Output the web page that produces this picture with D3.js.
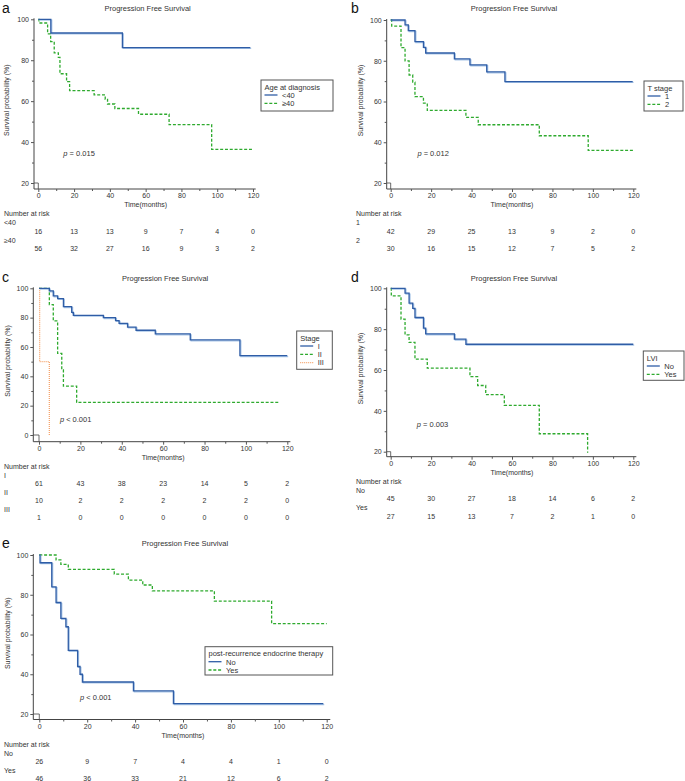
<!DOCTYPE html>
<html><head><meta charset="utf-8">
<script src="https://cdn.jsdelivr.net/npm/d3@7/dist/d3.min.js"></script>
<style>body{margin:0;background:#fff}svg{display:block}</style>
</head><body>
<svg id="chart" width="685" height="781"></svg>
<script>
// ---------- DATA ----------
const riskTimes = [0, 20, 40, 60, 80, 100, 120];
const xTickLabels = [0, 20, 40, 60, 80, 100, 120];

// Panel a: Age at diagnosis
const aGroups = ["<40", "\u226540"];
const aYoung = [[0,100],[7,93.3],[47,86.2],[118.5,86.2]];
const aOld = [[0,100],[0.4,98.2],[5.2,92.9],[6.9,89.1],[8.9,83.6],[11.2,81.4],[12.1,73.4],[15.8,69.5],[17.5,65.1],[31.2,63.1],[37.4,60.9],[38.7,58.6],[42.8,56.4],[56,53.6],[73.1,48.5],[96.9,36.4],[120,36.4]];
const aRiskYoung = [16,13,13,9,7,4,0];
const aRiskOld = [56,32,27,16,9,3,2];

// Panel b: T stage
const bGroups = ["1", "2"];
const bT1 = [[0,100],[7.1,97.6],[8.7,94.8],[12,89.4],[16.2,86.6],[17.3,83.8],[31.5,80.9],[39.2,78],[47.5,74.5],[56.5,69.8],[119.7,69.8]];
const bT2 = [[0,100],[0.5,97],[5.1,86.4],[7.1,79.9],[9.1,73],[10.9,69.5],[12,62.4],[16.2,59.2],[18.1,55.6],[37.2,52.2],[43.3,48.6],[73.5,43.2],[97.7,36],[120.5,36]];
const bRiskT1 = [42,29,25,13,9,2,0];
const bRiskT2 = [30,16,15,12,7,5,2];

// Panel c: Stage
const cGroups = ["I", "II", "III"];
const cStage1 = [[0,100],[5,98.2],[6.9,94.8],[9,93],[11.8,87.5],[15.8,83.6],[16.6,81.6],[31.1,80],[37,78],[38.7,76.1],[42.8,73.6],[46.9,71.4],[56.2,68.9],[73.1,64.8],[97.1,54.1],[120,54.1]];
const cStage2 = [[0,100],[5,88.9],[6.9,77.8],[9,55.6],[11,44.4],[11.8,33.3],[18.2,22.2],[116,22.2]];
const cStage3 = [[0,100],[0.3,50],[5,0]];
const cRisk1 = [61,43,38,23,14,5,2];
const cRisk2 = [10,2,2,2,2,2,0];
const cRisk3 = [1,0,0,0,0,0,0];

// Panel d: LVI
const dGroups = ["No", "Yes"];
const dNo = [[0,100],[7.1,97.6],[9.1,92.7],[10.9,90.2],[12,85.7],[16.2,80.5],[17.3,77.7],[31.5,75.1],[37.2,72.6],[120,72.6]];
const dYes = [[0,100],[0.3,96.3],[5.1,84.9],[7.1,77.2],[9.1,73.5],[12,65.3],[18.1,60.9],[39.2,56.8],[43,52.4],[47,47.9],[56.2,42.7],[73.5,28.8],[97.4,19.5]];
const dRiskNo = [45,30,27,18,14,6,2];
const dRiskYes = [27,15,13,7,2,1,0];

// Panel e: post-recurrence endocrine therapy
const eGroups = ["No", "Yes"];
const eNo = [[0,100],[0.3,96.1],[5.2,84],[7,76.1],[9,68.1],[11.1,63.9],[12.1,52],[16,43.9],[17,40],[18,36.1],[39.3,31.6],[56,25.2],[118.6,25.2]];
const eYes = [[0,100],[7,97.5],[9,95.3],[12.1,92.8],[31.3,90.4],[37.2,87.4],[43.2,84.9],[47.2,82],[73.1,76.8],[97,65.5],[120,65.5]];
const eRiskNo = [26,9,7,4,4,1,0];
const eRiskYes = [46,36,33,21,12,6,2];

const pValues = ["= 0.015", "= 0.012", "< 0.001", "= 0.003", "< 0.001"];

// ---------- STYLE ----------
const FONT = '"Liberation Sans", Arial, Helvetica, sans-serif';
const TXT = "#333";
const BLUE = "#2f5da6", BLUE_SH = "#a9c6e8", GREEN = "#2eaa2e", ORANGE = "#f5a46c";
const styles = {
  blue: {stroke: BLUE, dash: null, shadow: true},
  green: {stroke: GREEN, dash: "3,1.8", shadow: false},
  orange: {stroke: ORANGE, dash: "1,1", shadow: false}
};

const panels = [
  {letter:"a", lx:2, ly:13, x0:38.3, x1:253, yLo:20, yLoPx:183, yHiPx:19.3, axisX:34, axisY:189, titleY:10.5,
   labX:4, ylabX:9, p:[14,33], pv:pValues[0], legTitle:"Age at diagnosis", legBox:[261,80,72,31],
   series:[{d:aYoung, s:"blue"},{d:aOld, s:"green"}], groups:aGroups, risk:[aRiskYoung,aRiskOld], rowStep:17.5},
  {letter:"b", lx:351, ly:13, x0:390.7, x1:633.3, yLo:20, yLoPx:183, yHiPx:20, axisX:386.7, axisY:189, titleY:10.5,
   labX:356, ylabX:362.5, p:[13.2,33.2], pv:pValues[1], legTitle:"T stage", legBox:[644,81,39,30],
   series:[{d:bT1, s:"blue"},{d:bT2, s:"green"}], groups:bGroups, risk:[bRiskT1,bRiskT2], rowStep:17.5},
  {letter:"c", lx:2, ly:282, x0:39, x1:287.3, yLo:0, yLoPx:435, yHiPx:288.3, axisX:33.3, axisY:441.7, titleY:280.5,
   labX:4, ylabX:9.5, p:[10.1,9], pv:pValues[2], legTitle:"Stage", legBox:[296.7,331,35.6,38.3],
   series:[{d:cStage1, s:"blue"},{d:cStage2, s:"green"},{d:cStage3, s:"orange"}], groups:cGroups, risk:[cRisk1,cRisk2,cRisk3], rowStep:17},
  {letter:"d", lx:351, ly:282, x0:390.7, x1:633.3, yLo:20, yLoPx:451.7, yHiPx:288.3, axisX:386.7, axisY:456.7, titleY:280.5,
   labX:356, ylabX:362.5, p:[12.9,32.3], pv:pValues[3], legTitle:"LVI", legBox:[643.3,351,40.7,29.3],
   series:[{d:dNo, s:"blue"},{d:dYes, s:"green"}], groups:dGroups, risk:[dRiskNo,dRiskYes], rowStep:17.3},
  {letter:"e", lx:2, ly:548, x0:39.3, x1:326.7, yLo:20, yLoPx:714, yHiPx:555, axisX:33.3, axisY:719.5, titleY:546,
   labX:4, ylabX:9.5, p:[17,26.8], pv:pValues[4], legTitle:"post-recurrence endocrine therapy", legBox:[205,646.7,127.7,28.3],
   series:[{d:eNo, s:"blue"},{d:eYes, s:"green"}], groups:eGroups, risk:[eRiskNo,eRiskYes], rowStep:17.3}
];

const svg = d3.select("#chart");

panels.forEach(P => {
  const g = svg.append("g");
  const x = d3.scaleLinear().domain([0,120]).range([P.x0, P.x1]);
  const y = d3.scaleLinear().domain([P.yLo,100]).range([P.yLoPx, P.yHiPx]);

  // panel letter
  g.append("text").attr("x",P.lx).attr("y",P.ly).attr("font-family",FONT).attr("font-size",14).attr("fill","#111").text(P.letter);
  // title
  g.append("text").attr("x",(P.x0+P.x1)/2+2).attr("y",P.titleY).attr("text-anchor","middle")
    .attr("font-family",FONT).attr("font-size",7.5).attr("fill",TXT).text("Progression Free Survival");

  // axes lines
  g.append("line").attr("x1",P.axisX).attr("x2",P.axisX).attr("y1",y(100)-1).attr("y2",P.axisY)
    .attr("stroke","#444").attr("stroke-width",1);
  g.append("line").attr("x1",P.axisX).attr("x2",x(121.5)).attr("y1",P.axisY).attr("y2",P.axisY)
    .attr("stroke","#444").attr("stroke-width",1);
  // corner bracket
  g.append("path").attr("d",`M${P.axisX},${y(P.yLo)}H${x(0)}V${P.axisY}`).attr("fill","none")
    .attr("stroke","#444").attr("stroke-width",0.8);

  const yMajor = d3.range(P.yLo, 100.1, 20);
  const yMinor = d3.range(P.yLo+10, 100, 20);
  const yAx = g.append("g").attr("transform",`translate(${P.axisX},0)`)
    .call(d3.axisLeft(y).tickValues(yMajor).tickSize(3).tickPadding(2));
  const yAxMin = g.append("g").attr("transform",`translate(${P.axisX},0)`)
    .call(d3.axisLeft(y).tickValues(yMinor).tickSize(2).tickFormat(""));
  const xAx = g.append("g").attr("transform",`translate(0,${P.axisY})`)
    .call(d3.axisBottom(x).tickValues(xTickLabels).tickSize(3).tickPadding(1.5));
  const xAxMin = g.append("g").attr("transform",`translate(0,${P.axisY})`)
    .call(d3.axisBottom(x).tickValues(d3.range(10,120,20)).tickSize(2).tickFormat(""));
  [yAx,yAxMin,xAx,xAxMin].forEach(a => {
    a.select(".domain").remove();
    a.selectAll("line").attr("stroke","#555");
    a.selectAll("text").attr("font-family",FONT).attr("font-size",7).attr("fill",TXT);
  });

  // y-axis label
  const yc = (y(100)+P.axisY)/2 - 4;
  g.append("text").attr("transform",`translate(${P.ylabX},${yc}) rotate(-90)`).attr("text-anchor","middle")
    .attr("font-family",FONT).attr("font-size",7).attr("fill",TXT).text("Survival probability (%)");
  // x-axis label
  g.append("text").attr("x",(P.x0+P.x1)/2).attr("y",P.axisY+18).attr("text-anchor","middle")
    .attr("font-family",FONT).attr("font-size",7).attr("fill",TXT).text("Time(months)");

  // curves
  const line = d3.line().x(d=>x(d[0])).y(d=>y(d[1])).curve(d3.curveStepAfter);
  P.series.slice().reverse().forEach(S => {
    const st = styles[S.s];
    if (st.shadow) {
      g.append("path").attr("d",line(S.d)).attr("fill","none").attr("stroke",BLUE_SH)
        .attr("stroke-width",1.3).attr("transform","translate(0.9,0.9)");
    }
    g.append("path").attr("d",line(S.d)).attr("fill","none").attr("stroke",st.stroke)
      .attr("stroke-width",1.3).attr("stroke-dasharray",st.dash);
  });

  // p-value
  const pt = g.append("text").attr("x",x(P.p[0])).attr("y",y(P.p[1]))
    .attr("font-family",FONT).attr("font-size",7.5).attr("fill",TXT);
  pt.append("tspan").attr("font-style","italic").text("p");
  pt.append("tspan").text(" " + P.pv);

  // legend
  const [bx,by,bw,bh] = P.legBox;
  const lg = g.append("g");
  lg.append("rect").attr("x",bx).attr("y",by).attr("width",bw).attr("height",bh)
    .attr("fill","#fff").attr("stroke","#555").attr("stroke-width",1);
  lg.append("text").attr("x",bx+3.5).attr("y",by+9.5).attr("font-family",FONT).attr("font-size",7.5)
    .attr("fill",TXT).text(P.legTitle);
  P.groups.forEach((gn,i) => {
    const st = styles[P.series[i].s];
    const base = by + 9.5 + 8.3*(i+1);
    lg.append("line").attr("x1",bx+3.5).attr("x2",bx+16.5).attr("y1",base-2.8).attr("y2",base-2.8)
      .attr("stroke",st.stroke).attr("stroke-width",1.3).attr("stroke-dasharray",st.dash);
    lg.append("text").attr("x",bx+21).attr("y",base).attr("font-family",FONT).attr("font-size",7.5)
      .attr("fill",TXT).text(gn);
  });

  // risk table
  const nar = P.axisY + 27;
  g.append("text").attr("x",P.labX).attr("y",nar).attr("font-family",FONT).attr("font-size",7)
    .attr("fill",TXT).text("Number at risk");
  P.groups.forEach((gn,i) => {
    const lb = nar + 9 + i*P.rowStep;
    g.append("text").attr("x",P.labX).attr("y",lb).attr("font-family",FONT).attr("font-size",7)
      .attr("fill",TXT).text(gn);
    g.selectAll(null).data(P.risk[i]).enter().append("text")
      .attr("x",(d,j)=>x(riskTimes[j])).attr("y",lb+8.5).attr("text-anchor","middle")
      .attr("font-family",FONT).attr("font-size",7).attr("fill",TXT).text(d=>d);
  });
});
</script>
</body></html>
